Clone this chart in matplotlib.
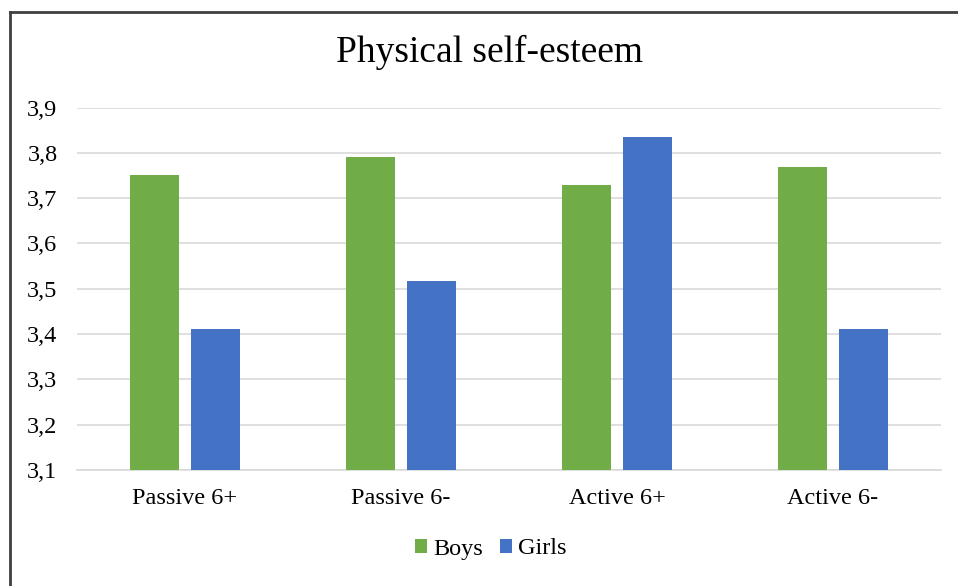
import matplotlib.pyplot as plt
import numpy as np
from matplotlib.lines import Line2D

categories = ["Passive 6+", "Passive 6-", "Active 6+", "Active 6-"]
boys = [3.75, 3.79, 3.728, 3.768]
girls = [3.411, 3.517, 3.834, 3.411]
yticks = [3.1, 3.2, 3.3, 3.4, 3.5, 3.6, 3.7, 3.8, 3.9]

plt.rcParams['font.family'] = ['Liberation Serif', 'DejaVu Serif']

W, H = 958, 586
fig = plt.figure(figsize=(W / 100, H / 100), dpi=100)
ax = fig.add_axes([77 / W, 1 - 470 / H, (941 - 77) / W, (470 - 107.5) / H])

x = np.arange(len(categories))
bw = 0.227
gap = 0.056
ax.bar(x - (bw + gap) / 2, boys, bw, color="#70ad47", label="Boys", zorder=3)
ax.bar(x + (bw + gap) / 2, girls, bw, color="#4472c4", label="Girls", zorder=3)

ax.set_xlim(-0.5, len(categories) - 0.5)
ax.set_ylim(3.1, 3.9)
ax.set_yticks(yticks)
ax.set_yticklabels([("%.1f" % v).replace(".", ",") for v in yticks], fontsize=17.5)
ax.set_xticks(x)
ax.set_xticklabels(categories, fontsize=17.5)
ax.tick_params(length=0)
ax.tick_params(axis='y', pad=14)
ax.tick_params(axis='x', pad=13)
ax.grid(axis='y', color="#d9d9d9", linewidth=1.2, zorder=0)
for s in ["top", "right", "left"]:
    ax.spines[s].set_visible(False)
ax.spines["bottom"].set_color("#d9d9d9")
ax.spines["bottom"].set_linewidth(1.2)

fig.text(490 / W, 1 - 52 / H, "Physical self-esteem", ha="center", va="center", fontsize=27)

fig.legend(loc="center", bbox_to_anchor=(491 / W, 1 - 549 / H), ncol=2, frameon=False,
           fontsize=17.5, handlelength=0.5, handleheight=0.5, handletextpad=0.25, columnspacing=0.7)

# outer frame (only top and left visible in the crop)
fig.add_artist(Line2D([10 / W, 1], [1 - 12 / H, 1 - 12 / H], color="#404040", linewidth=2, transform=fig.transFigure))
fig.add_artist(Line2D([10 / W, 10 / W], [0, 1 - 12 / H], color="#404040", linewidth=2, transform=fig.transFigure))

fig.savefig("out.png", dpi=100)
